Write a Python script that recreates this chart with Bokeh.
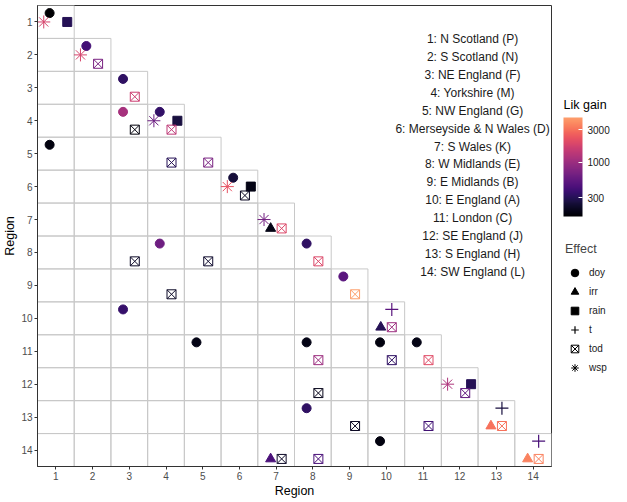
from bokeh.plotting import figure
from bokeh.models import (Range1d, FixedTicker, LogColorMapper, ColorBar, Legend,
                          LegendItem, ColumnDataSource, PrintfTickFormatter, Label)
from bokeh.transform import transform, dodge
from bokeh.palettes import magma
from bokeh.layouts import row
from bokeh.embed import file_html
from bokeh.resources import INLINE
from bokeh.core.properties import value

# ---------------- data ----------------
regions = list(range(1, 15))
region_names = ["N Scotland (P)", "S Scotland (N)", "NE England (F)", "Yorkshire (M)",
                "NW England (G)", "Merseyside & N Wales (D)", "S Wales (K)",
                "W Midlands (E)", "E Midlands (B)", "E England (A)", "London (C)",
                "SE England (J)", "S England (H)", "SW England (L)"]

effects = ["doy", "irr", "rain", "t", "tod", "wsp"]

row_region = [1, 1, 1,
              2, 2, 2,
              3, 3,
              4, 4, 4, 4, 4, 4,
              5, 5, 5,
              6, 6, 6, 6,
              7, 7, 7,
              8, 8, 8, 8, 8,
              9, 9, 9,
              10, 10, 10, 10,
              11, 11, 11, 11, 11, 11, 11,
              12, 12, 12, 12,
              13, 13, 13, 13, 13, 13,
              14, 14, 14, 14, 14, 14, 14]
col_region = [1, 1, 1,
              2, 2, 2,
              3, 3,
              3, 3, 4, 4, 4, 4,
              1, 4, 5,
              6, 6, 6, 6,
              7, 7, 7,
              3, 4, 5, 8, 8,
              4, 9, 9,
              3, 10, 10, 10,
              5, 8, 8, 10, 10, 11, 11,
              8, 12, 12, 12,
              8, 9, 11, 13, 13, 13,
              7, 7, 8, 10, 14, 14, 14]
effect = ["doy", "wsp", "rain",
          "doy", "wsp", "tod",
          "doy", "tod",
          "doy", "tod", "doy", "wsp", "rain", "tod",
          "doy", "tod", "tod",
          "doy", "wsp", "rain", "tod",
          "wsp", "irr", "tod",
          "tod", "doy", "tod", "doy", "tod",
          "tod", "doy", "tod",
          "doy", "t", "irr", "tod",
          "doy", "doy", "tod", "doy", "tod", "doy", "tod",
          "tod", "wsp", "tod", "rain",
          "doy", "tod", "tod", "t", "irr", "tod",
          "irr", "tod", "tod", "doy", "t", "irr", "tod"]
lik_gain = [160, 1800, 300,
            400, 1800, 700,
            330, 1600,
            1100, 175, 340, 600, 260, 1400,
            180, 300, 700,
            250, 2200, 190, 210,
            650, 190, 1900,
            220, 620, 230, 330, 1900,
            220, 500, 4500,
            350, 500, 300, 1000,
            190, 190, 1000, 180, 330, 190, 2000,
            200, 1200, 550, 300,
            330, 210, 380, 260, 3000, 3000,
            430, 220, 430, 180, 420, 3500, 3500]
colorbar_ticks = [300, 1000, 3000]

# ---------------- styles ----------------
FONT = "Liberation Sans"
palette = magma(256)[:205]
mapper = LogColorMapper(palette=palette, low=min(lik_gain), high=max(lik_gain))

marker_style = {
    "doy":  dict(marker="circle", size=9, filled=True, lw=1),
    "irr":  dict(marker="triangle", size=10, filled=True, lw=1),
    "rain": dict(marker="square", size=9, filled=True, lw=1),
    "t":    dict(marker="cross", size=13, filled=False, lw=1.2),
    "tod":  dict(marker="square_x", size=9, filled=False, lw=1),
    "wsp":  dict(marker="asterisk", size=13, filled=False, lw=1),
}
# position of each effect inside its cell (hexagonal arrangement)
offset = {"doy": (-0.17, -0.27), "t": (0.15, -0.27), "wsp": (-0.33, 0.0),
          "rain": (0.31, 0.0), "irr": (-0.15, 0.27), "tod": (0.15, 0.27)}

H = 500
FRAME_BOTTOM = 467   # screen y of the frame bottom (legend panel shares it)

# ---------------- main figure ----------------
p = figure(width=553, height=H, x_range=Range1d(0.5, 14.5), y_range=Range1d(14.5, 0.5),
           output_backend="svg", toolbar_location=None,
           min_border_left=34, min_border_right=2, min_border_top=5, min_border_bottom=20,
           x_axis_label="Region", y_axis_label="Region")
p.grid.visible = False
p.outline_line_color = "#333333"
p.outline_line_width = 1
p.background_fill_color = "white"

for ax in (p.xaxis[0], p.yaxis[0]):
    ax.ticker = FixedTicker(ticks=regions)
    ax.major_label_text_font = FONT
    ax.major_label_text_font_size = "10px"
    ax.major_label_text_color = "#4d4d4d"
    ax.axis_label_text_font = FONT
    ax.axis_label_text_font_size = "12.5px"
    ax.axis_label_text_font_style = "normal"
    ax.axis_label_text_color = "black"
    ax.major_tick_in = 0
    ax.major_tick_out = 3
    ax.minor_tick_line_color = None
    ax.axis_line_color = "#333333"
    ax.major_tick_line_color = "#333333"
    ax.major_label_standoff = 2
    ax.axis_label_standoff = 1

# lower-triangular grid of cells
cell_x = [j for i in regions for j in regions if j <= i]
cell_y = [i for i in regions for j in regions if j <= i]
p.rect(x=cell_x, y=cell_y, width=1, height=1, fill_color=None,
       line_color="#c8c8c8", line_width=1)

# region list text
n = len(region_names)
txt_x = [12.35] * n
txt_y = [1.52 + k * 0.544 for k in range(n)]
txt = [f"{r}: {name}" for r, name in zip(regions, region_names)]
p.text(x=txt_x, y=txt_y, text=txt, text_font=value(FONT), text_font_size="12px",
       text_align="center", text_baseline="middle", text_color="#1a1a1a")

# markers
for e in effects:
    idx = [k for k, ef in enumerate(effect) if ef == e]
    src = ColumnDataSource(dict(row=[row_region[k] for k in idx],
                                col=[col_region[k] for k in idx],
                                gain=[lik_gain[k] for k in idx]))
    st = marker_style[e]
    dx, dy = offset[e]
    col = transform("gain", mapper)
    p.scatter(x=dodge("col", dx), y=dodge("row", dy), source=src, marker=st["marker"],
              size=st["size"], line_color=col, line_width=st["lw"],
              fill_color=col if st["filled"] else None)

# ---------------- legend figure ----------------
pl = figure(width=58, height=H, x_range=Range1d(0, 1), y_range=Range1d(0, 1),
            output_backend="svg", toolbar_location=None,
            x_axis_location=None, y_axis_location=None, min_border=0)
pl.grid.visible = False
pl.outline_line_color = None

cbar = ColorBar(color_mapper=mapper, ticker=FixedTicker(ticks=colorbar_ticks),
                formatter=PrintfTickFormatter(format="%d"),
                width=19, height=99, location=(10, FRAME_BOTTOM - 217),
                padding=0, margin=0, border_line_color=None, background_fill_alpha=0,
                major_label_text_font=FONT, major_label_text_font_size="10px",
                major_label_text_color="#1a1a1a",
                major_tick_line_color="white", major_tick_in=4, major_tick_out=0,
                minor_tick_line_color=None, bar_line_color=None, label_standoff=5)
pl.add_layout(cbar, "center")
pl.add_layout(Label(x=10, y=FRAME_BOTTOM - 105, x_units="screen", y_units="screen",
                    text="Lik gain", text_font=FONT, text_font_size="12.5px",
                    text_font_style="normal",
                    text_baseline="middle", text_align="left", text_color="black"))

items = []
for e in effects:
    st = marker_style[e]
    r = pl.scatter(x=[-100], y=[-100], marker=st["marker"], line_color="black",
                   fill_color="black" if st["filled"] else None, line_width=st["lw"])
    items.append(LegendItem(label=e, renderers=[r]))
leg = Legend(items=items, title="Effect", location=(12, FRAME_BOTTOM - 378),
             padding=0, margin=0,
             spacing=0, glyph_height=19, glyph_width=19, label_height=19,
             label_standoff=5, title_standoff=7, border_line_color=None,
             background_fill_alpha=0, label_text_font=FONT, label_text_font_size="10px",
             label_text_color="#1a1a1a", title_text_font=FONT,
             title_text_font_size="12.5px", title_text_font_style="normal")
pl.add_layout(leg, "center")

layout = row(p, pl)
open("out.html", "w").write(file_html(layout, INLINE))
